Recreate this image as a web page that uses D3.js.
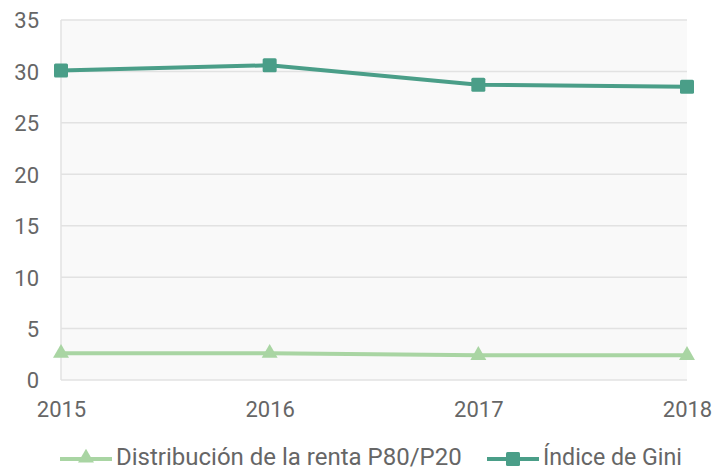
<!DOCTYPE html>
<html><head><meta charset="utf-8">
<script src="https://cdn.jsdelivr.net/npm/d3@7"></script>
<style>body{margin:0;background:#fff;}svg{display:block;font-family:Roboto,sans-serif;}</style>
</head><body>
<svg id="c" width="713" height="470"></svg>
<script>
const years = ["2015","2016","2017","2018"];
const p8020 = [2.6, 2.6, 2.4, 2.4];
const gini = [30.1, 30.6, 28.7, 28.5];
const yTicks = [0,5,10,15,20,25,30,35];
const seriesNames = ["Distribución de la renta P80/P20", "Índice de Gini"];
const colors = ["#a9d5a3", "#4a9e88"];

const svg = d3.select("#c");
const L=61, R=687, T=20, B=380;
const x = d3.scalePoint().domain(years).range([L,R]);
const y = d3.scaleLinear().domain([0,35]).range([B,T]);

svg.append("rect").attr("x",L).attr("y",T).attr("width",R-L).attr("height",B-T).attr("fill","#f9f9f9");
svg.append("g").selectAll("line").data(yTicks).join("line")
  .attr("x1",L).attr("x2",R).attr("y1",d=>y(d)).attr("y2",d=>y(d))
  .attr("stroke","#e2e2e2").attr("stroke-width",1.5);
svg.append("line").attr("x1",L).attr("x2",L).attr("y1",T).attr("y2",B).attr("stroke","#e2e2e2").attr("stroke-width",1.5);

const ya = svg.append("g").attr("transform",`translate(${L},0)`).call(d3.axisLeft(y).tickValues(yTicks).tickSize(0).tickPadding(22));
ya.select(".domain").remove();
ya.selectAll("text").attr("font-size",22).attr("fill","#666").attr("font-family","Roboto,sans-serif").attr("dy","0.36em");
const xa = svg.append("g").attr("transform",`translate(0,${B})`).call(d3.axisBottom(x).tickSize(0).tickPadding(21));
xa.select(".domain").remove();
xa.selectAll("text").attr("font-size",22).attr("fill","#666").attr("font-family","Roboto,sans-serif");

const line = d3.line().x((d,i)=>x(years[i])).y(d=>y(d));
[p8020, gini].forEach((data,k)=>{
  svg.append("path").datum(data).attr("d",line).attr("fill","none").attr("stroke",colors[k]).attr("stroke-width",4);
});
const tri = d3.symbol().type(d3.symbolTriangle).size(110);
svg.append("g").selectAll("path").data(p8020).join("path")
  .attr("d",tri).attr("transform",(d,i)=>`translate(${x(years[i])},${y(d)})`).attr("fill",colors[0]);
svg.append("g").selectAll("rect").data(gini).join("rect")
  .attr("x",(d,i)=>x(years[i])-7).attr("y",d=>y(d)-7).attr("width",14).attr("height",14).attr("rx",1.5).attr("fill",colors[1]);

// legend
const lg = svg.append("g");
const items = [{x0:60, name:seriesNames[0], c:colors[0], m:"tri", w:346},{x0:487, name:seriesNames[1], c:colors[1], m:"sq", w:139}];
items.forEach(it=>{
  lg.append("line").attr("x1",it.x0).attr("x2",it.x0+52).attr("y1",459).attr("y2",459).attr("stroke",it.c).attr("stroke-width",4);
  if(it.m==="tri") lg.append("path").attr("d",tri).attr("transform",`translate(${it.x0+26},458)`).attr("fill",it.c);
  else lg.append("rect").attr("x",it.x0+19).attr("y",452).attr("width",14).attr("height",14).attr("rx",1.5).attr("fill",it.c);
  const t = lg.append("text").attr("x",it.x0+56).attr("y",465).attr("font-size",22).attr("fill","#666").text(it.name);
  const len = t.node().getComputedTextLength();
  t.attr("font-size", 22*it.w/len);
});
</script>
</body></html>
